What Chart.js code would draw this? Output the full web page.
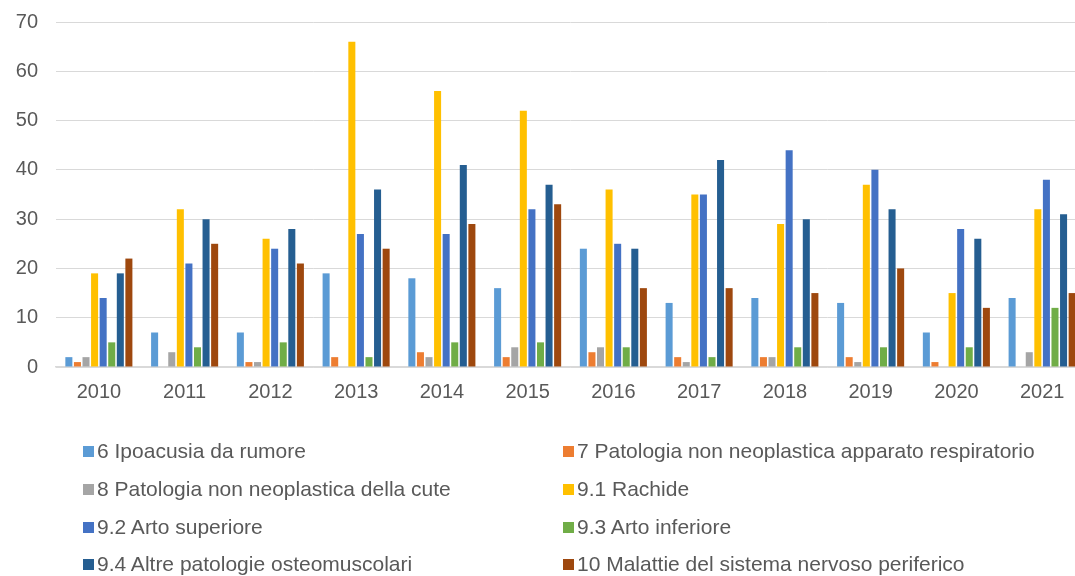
<!DOCTYPE html>
<html lang="it">
<head>
<meta charset="utf-8">
<title>Malattie professionali 2010-2021</title>
<script src="https://cdn.jsdelivr.net/npm/chart.js@4/dist/chart.umd.min.js"></script>
<style>
  html, body { margin: 0; padding: 0; background: #fff; overflow: hidden; }
  #wrap { position: relative; width: 1090px; height: 410px; }
  #legend {
    position: absolute; left: 0; top: 0; width: 1075px; height: 576px;
    pointer-events: none;
    font-family: "Liberation Sans", Arial, sans-serif; font-size: 21px; color: #595959;
  }
  .item { position: absolute; display: flex; align-items: center; white-space: nowrap; height: 24px; }
  .box { width: 11px; height: 11px; margin-right: 3px; }
</style>
</head>
<body>
<div id="wrap"><canvas id="chart"></canvas></div>
<div id="legend"></div>

<script>
// Anni e casi per gruppo di malattia
const years = ['2010', '2011', '2012', '2013', '2014', '2015', '2016', '2017', '2018', '2019', '2020', '2021'];

const ipoacusia     = [2, 7, 7, 19, 18, 16, 24, 13, 14, 13, 7, 14];
const respiratorio  = [1, 0, 1, 2, 3, 2, 3, 2, 2, 2, 1, 0];
const cute          = [2, 3, 1, 0, 2, 4, 4, 1, 2, 1, 0, 3];
const rachide       = [19, 32, 26, 66, 56, 52, 36, 35, 29, 37, 15, 32];
const artoSup       = [14, 21, 24, 27, 27, 32, 25, 35, 44, 40, 28, 38];
const artoInf       = [5, 4, 5, 2, 5, 5, 4, 2, 4, 4, 4, 12];
const osteomuscolari = [19, 30, 28, 36, 41, 37, 24, 42, 30, 32, 26, 31];
const nervoso       = [22, 25, 21, 24, 29, 33, 16, 16, 15, 20, 12, 15];

const yTicks = [0, 10, 20, 30, 40, 50, 60, 70];

const seriesNames = [
  '6 Ipoacusia da rumore',
  '7 Patologia non neoplastica apparato respiratorio',
  '8 Patologia non neoplastica della cute',
  '9.1 Rachide',
  '9.2 Arto superiore',
  '9.3 Arto inferiore',
  '9.4 Altre patologie osteomuscolari',
  '10 Malattie del sistema nervoso periferico'
];
const seriesValues = [ipoacusia, respiratorio, cute, rachide, artoSup, artoInf, osteomuscolari, nervoso];
const seriesColors = ['#5B9BD5', '#ED7D31', '#A5A5A5', '#FFC000', '#4472C4', '#70AD47', '#255E91', '#9E480E'];

const datasets = seriesNames.map((name, i) => ({
  label: name,
  data: seriesValues[i],
  backgroundColor: seriesColors[i],
  borderWidth: 0,
  categoryPercentage: 0.8,
  barPercentage: 0.82
}));

const textColor = '#595959';
const fontFamily = '"Liberation Sans", Arial, sans-serif';

const ctx = document.getElementById('chart').getContext('2d');
new Chart(ctx, {
  type: 'bar',
  data: { labels: years, datasets: datasets },
  options: {
    responsive: true,
    maintainAspectRatio: false,
    animation: false,
    layout: { padding: { top: 22, right: 5, bottom: 0, left: 0 } },
    plugins: {
      legend: { display: false },
      tooltip: { enabled: false }
    },
    scales: {
      x: {
        grid: { display: false, drawTicks: false },
        border: { color: '#d9d9d9', width: 1.5 },
        ticks: { color: textColor, font: { family: fontFamily, size: 20 }, padding: 13, maxRotation: 0 },
        afterFit: scale => {
          scale.height = 43;
          scale.paddingLeft = 0;
          scale.paddingRight = 0;
        }
      },
      y: {
        min: 0,
        max: 70,
        afterBuildTicks: scale => { scale.ticks = yTicks.map(v => ({ value: v })); },
        grid: { color: '#d9d9d9', lineWidth: 1, drawTicks: false },
        border: { display: false },
        ticks: { color: textColor, font: { family: fontFamily, size: 20 }, padding: 18 },
        afterFit: scale => {
          scale.width = 56;
          scale.paddingTop = 0;
          scale.paddingBottom = 0;
        }
      }
    }
  }
});

// Legenda su due colonne sotto il grafico
const legend = document.getElementById('legend');
const colLeft = [83, 563];
const rowCenter = [451, 489, 527, 564];
seriesNames.forEach((name, i) => {
  const item = document.createElement('div');
  item.className = 'item';
  item.style.left = colLeft[i % 2] + 'px';
  item.style.top = (rowCenter[Math.floor(i / 2)] - 12) + 'px';
  item.innerHTML = `<span class="box" style="background:${seriesColors[i]}"></span><span>${name}</span>`;
  legend.appendChild(item);
});
</script>
</body>
</html>
